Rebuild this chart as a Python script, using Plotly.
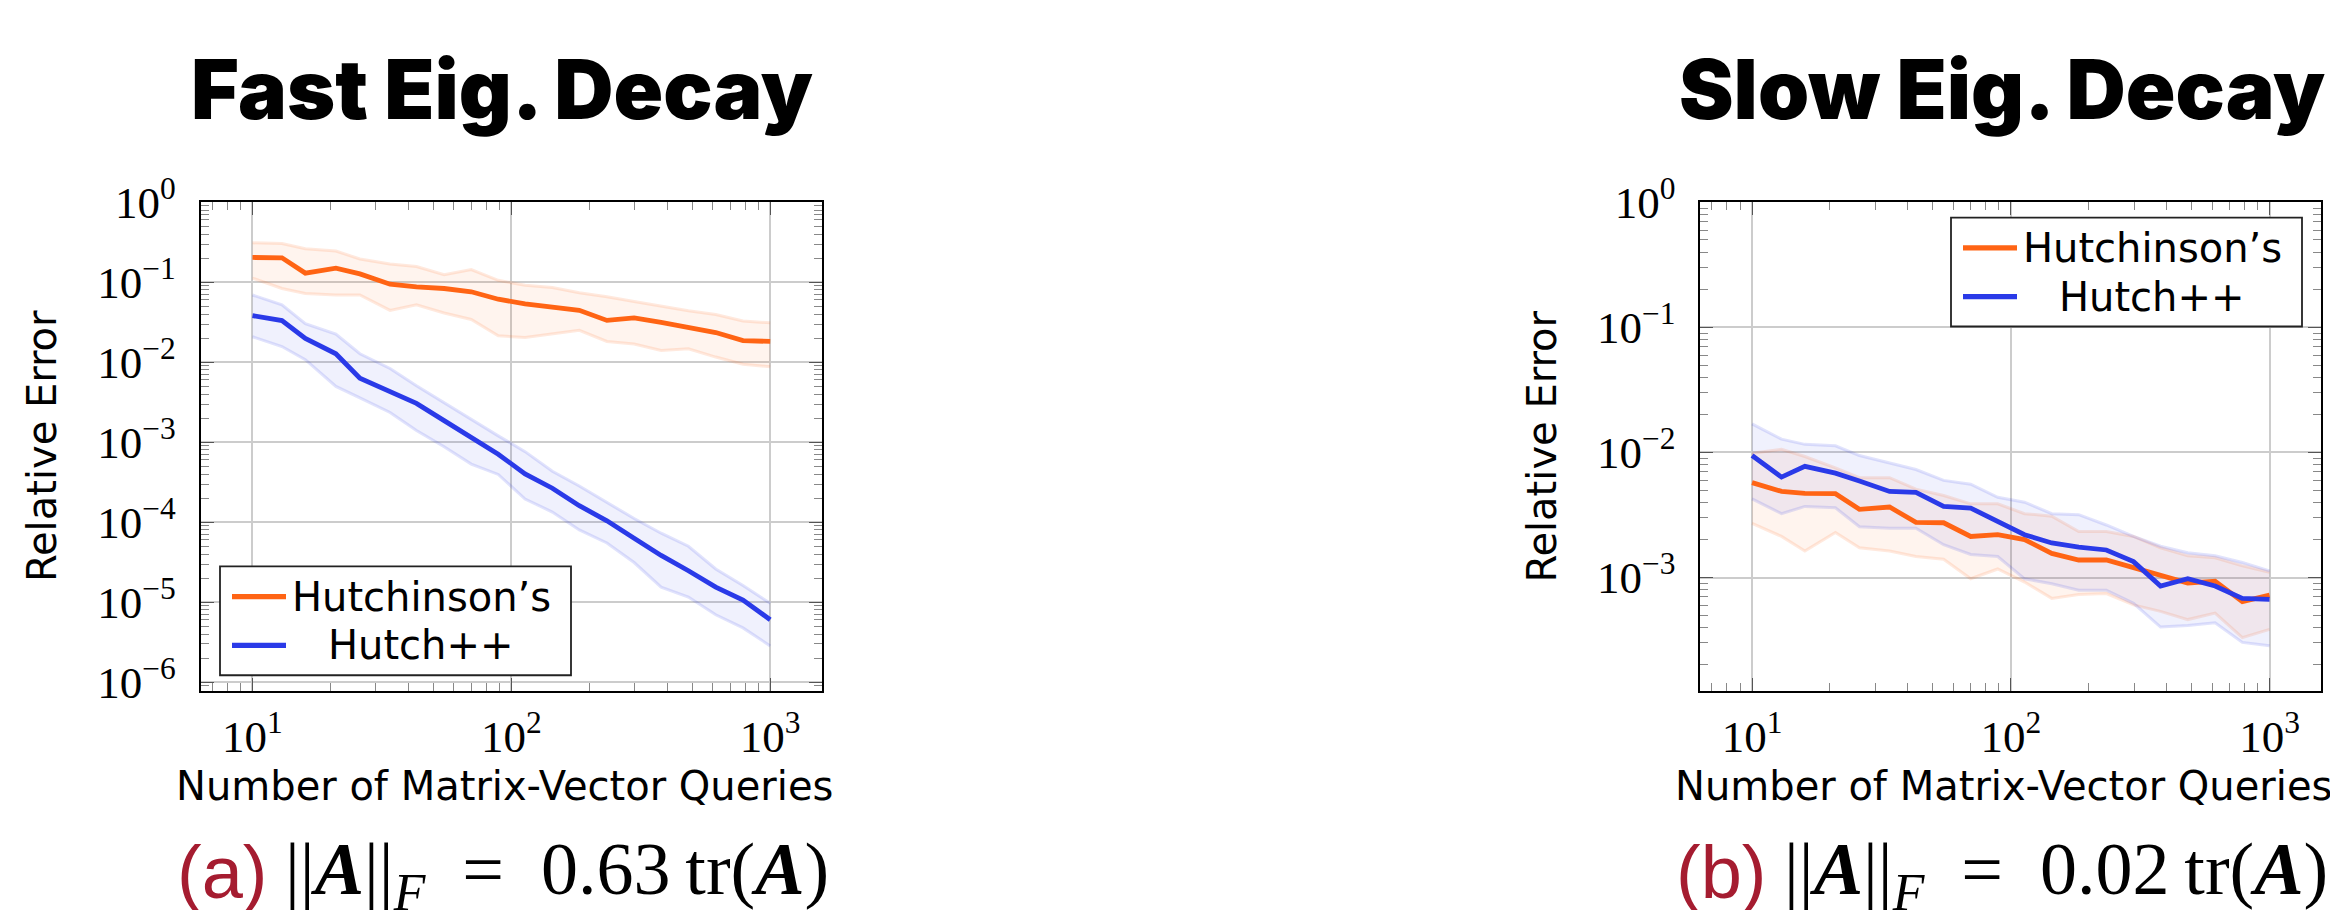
import plotly.graph_objects as go

W, H = 2338, 910

queries = [10, 13, 16, 21, 26, 34, 43, 55, 70, 89, 113, 144, 183, 234, 298, 379, 483, 616, 785, 1000]

fast_hutch = [0.204, 0.202, 0.130, 0.150, 0.127, 0.0944, 0.0875, 0.0835, 0.076, 0.0613, 0.0537, 0.0489,
              0.0445, 0.0333, 0.0358, 0.0314, 0.0275, 0.0235, 0.0186, 0.0182]
fast_hutch_hi = [0.311, 0.305, 0.263, 0.246, 0.195, 0.169, 0.157, 0.124, 0.144, 0.1057, 0.0917, 0.0859,
                 0.0739, 0.066, 0.0574, 0.0498, 0.0441, 0.0394, 0.0327, 0.0311]
fast_hutch_lo = [0.1128, 0.0835, 0.0725, 0.0692, 0.0692, 0.0445, 0.0522, 0.0413, 0.0342, 0.0214, 0.0204,
                 0.0224, 0.0251, 0.0182, 0.0169, 0.014, 0.0147, 0.0116, 0.00944, 0.00875]

fast_hpp = [0.0382, 0.0332, 0.0198, 0.01275, 0.00631, 0.00433, 0.00306, 0.00186, 0.00116, 7.06e-4, 4.02e-4,
            2.66e-4, 1.61e-4, 1.04e-4, 6.31e-5, 3.84e-5, 2.47e-5, 1.54e-5, 1.06e-5, 6.04e-6]
fast_hpp_hi = [0.0692, 0.0522, 0.0303, 0.0224, 0.01276, 0.00836, 0.00508, 0.00311, 0.00195, 0.0012, 7.62e-4,
               4.34e-4, 2.84e-4, 1.78e-4, 1.11e-4, 7.28e-5, 5.0e-5, 2.6e-5, 1.62e-5, 9.66e-6]
fast_hpp_lo = [0.0208, 0.0157, 0.01076, 0.00499, 0.00359, 0.00235, 0.0014, 8.77e-4, 5.33e-4, 3.95e-4, 1.95e-4,
               1.34e-4, 8.0e-5, 5.5e-5, 3.13e-5, 1.54e-5, 1.16e-5, 6.95e-6, 4.77e-6, 2.84e-6]

slow_hutch = [5.74e-3, 4.88e-3, 4.71e-3, 4.68e-3, 3.51e-3, 3.66e-3, 2.76e-3, 2.74e-3, 2.13e-3, 2.2e-3, 2.01e-3,
              1.56e-3, 1.38e-3, 1.38e-3, 1.2e-3, 1.05e-3, 9.03e-4, 9.36e-4, 6.41e-4, 7.23e-4]
slow_hutch_hi = [9.84e-3, 1.06e-2, 9.28e-3, 7.52e-3, 6.28e-3, 6.28e-3, 5.09e-3, 4.52e-3, 3.88e-3, 3.88e-3,
                 3.24e-3, 3.09e-3, 2.33e-3, 2.33e-3, 2.13e-3, 1.73e-3, 1.49e-3, 1.44e-3, 1.24e-3, 1.1e-3]
slow_hutch_lo = [2.71e-3, 2.13e-3, 1.63e-3, 2.29e-3, 1.73e-3, 1.63e-3, 1.47e-3, 1.4e-3, 9.77e-4, 1.17e-3, 9.2e-4,
                 6.81e-4, 7.31e-4, 7.44e-4, 6.04e-4, 5.36e-4, 4.61e-4, 5.2e-4, 3.31e-4, 3.85e-4]

slow_hpp = [9.44e-3, 6.35e-3, 7.74e-3, 6.83e-3, 5.91e-3, 4.88e-3, 4.8e-3, 3.7e-3, 3.59e-3, 2.79e-3, 2.2e-3,
            1.89e-3, 1.75e-3, 1.66e-3, 1.34e-3, 8.55e-4, 9.77e-4, 8.55e-4, 6.81e-4, 6.68e-4]
slow_hpp_hi = [0.0169, 0.01276, 0.0116, 0.0113, 9.44e-3, 8.22e-3, 7.3e-3, 5.98e-3, 5.57e-3, 4.38e-3, 4.0e-3,
               3.24e-3, 3.18e-3, 2.63e-3, 2.13e-3, 1.78e-3, 1.58e-3, 1.49e-3, 1.32e-3, 1.13e-3]
slow_hpp_lo = [4.25e-3, 3.24e-3, 3.7e-3, 3.61e-3, 2.55e-3, 2.48e-3, 2.48e-3, 1.83e-3, 1.53e-3, 1.47e-3, 9.77e-4,
               8.92e-4, 7.91e-4, 7.91e-4, 6.22e-4, 4.02e-4, 4.14e-4, 4.35e-4, 3.03e-4, 2.85e-4]

series_names = ["Hutchinson\u2019s", "Hutch++"]
panel_titles = ["Fast Eig. Decay", "Slow Eig. Decay"]
panel_captions = [("(a)", "0.63"), ("(b)", "0.02")]
x_label = "Number of Matrix-Vector Queries"
y_label = "Relative Error"

ORANGE = "#ff6414"
BLUE = "#2a3ae8"
ORANGE_RGB = "255,100,20"
BLUE_RGB = "42,58,232"

SANS = "DejaVu Sans, sans-serif"
SERIF = "Liberation Serif, DejaVu Serif, serif"


def px(x):
    return x / W


def py(y):
    return 1 - y / H


FRAME_TOP, FRAME_BOT = 172.3, 688.0
FRAMES_X = [(192.7, 814.0), (1692.3, 2313.3)]

fig = go.Figure()


def add_band(xa, ya, lo, hi, rgb):
    fig.add_trace(go.Scatter(x=queries, y=lo, xaxis=xa, yaxis=ya, mode="lines",
                             line=dict(color=f"rgba({rgb},0.14)", width=3), showlegend=False,
                             hoverinfo="skip"))
    fig.add_trace(go.Scatter(x=queries, y=hi, xaxis=xa, yaxis=ya, mode="lines", fill="tonexty",
                             fillcolor=f"rgba({rgb},0.07)",
                             line=dict(color=f"rgba({rgb},0.14)", width=3), showlegend=False,
                             hoverinfo="skip"))


def add_line(xa, ya, vals, color, name):
    fig.add_trace(go.Scatter(x=queries, y=vals, xaxis=xa, yaxis=ya, mode="lines", name=name,
                             line=dict(color=color, width=4.8), showlegend=False))


add_band("x", "y", fast_hutch_lo, fast_hutch_hi, ORANGE_RGB)
add_band("x", "y", fast_hpp_lo, fast_hpp_hi, BLUE_RGB)
add_line("x", "y", fast_hutch, ORANGE, series_names[0])
add_line("x", "y", fast_hpp, BLUE, series_names[1])

add_band("x2", "y2", slow_hutch_lo, slow_hutch_hi, ORANGE_RGB)
add_band("x2", "y2", slow_hpp_lo, slow_hpp_hi, BLUE_RGB)
add_line("x2", "y2", slow_hutch, ORANGE, series_names[0])
add_line("x2", "y2", slow_hpp, BLUE, series_names[1])


def sup(e):
    s = str(e).replace("-", "\u2212")
    return f"10<sup>{s}</sup>"


x_major = [10, 100, 1000]
x_minor = [k * 10 ** e for e in range(0, 4) for k in range(2, 10)]
TICKFONT = dict(family=SERIF, size=45, color="black")


def xaxis_cfg(domain, anchor):
    return dict(domain=domain, anchor=anchor, type="log", range=[0.8, 3.2],
                showline=True, linecolor="black", linewidth=1.8, mirror="allticks",
                ticks="inside", ticklen=13, tickwidth=1.3, tickcolor="#555",
                tickmode="array", tickvals=x_major, ticktext=[sup(1), sup(2), sup(3)],
                tickfont=TICKFONT,
                showgrid=True, gridcolor="#cccccc", gridwidth=1.5, zeroline=False,
                minor=dict(ticks="inside", ticklen=8, tickwidth=1.2, tickcolor="#888",
                           tickmode="array", tickvals=x_minor, showgrid=False),
                ticklabelstandoff=5)


def yaxis_cfg(domain, anchor, lo_exp, rng):
    majors = [10 ** e for e in range(lo_exp, 1)]
    minors = [k * 10 ** e for e in range(lo_exp - 1, 1) for k in range(2, 10)]
    return dict(domain=domain, anchor=anchor, type="log", range=rng,
                showline=True, linecolor="black", linewidth=1.8, mirror="allticks",
                ticks="inside", ticklen=13, tickwidth=1.3, tickcolor="#555",
                tickmode="array", tickvals=majors, ticktext=[sup(e) for e in range(lo_exp, 1)],
                tickfont=TICKFONT,
                showgrid=True, gridcolor="#cccccc", gridwidth=1.5, zeroline=False,
                minor=dict(ticks="inside", ticklen=8, tickwidth=1.2, tickcolor="#888",
                           tickmode="array", tickvals=minors, showgrid=False),
                ticklabelstandoff=14)


ydom = [py(FRAME_BOT), py(FRAME_TOP)]
fig.update_layout(
    width=W, height=H, margin=dict(l=0, r=0, t=0, b=0),
    paper_bgcolor="white", plot_bgcolor="white", showlegend=False,
    xaxis=xaxis_cfg([px(FRAMES_X[0][0]), px(FRAMES_X[0][1])], "y"),
    yaxis=yaxis_cfg(ydom, "x", -6, [-6.107, 0.0005]),
    xaxis2=xaxis_cfg([px(FRAMES_X[1][0]), px(FRAMES_X[1][1])], "y2"),
    yaxis2=yaxis_cfg(ydom, "x2", -3, [-3.905, 0.0005]),
)

annotations = []
shapes = []
legend_boxes = [(212.0, 556.7), (1943.0, 188.5)]
for i, (x0, x1) in enumerate(FRAMES_X):
    cx = (x0 + x1) / 2
    annotations.append(dict(text=panel_titles[i], x=px(cx - 9), y=py(53), xref="paper", yref="paper",
                            xanchor="center", yanchor="middle", showarrow=False,
                            font=dict(family="Inter, Noto Sans, sans-serif", size=82, color="black",
                                      weight=900)))
    annotations.append(dict(text=x_label, x=px(cx - 7), y=py(789), xref="paper", yref="paper",
                            xanchor="center", yanchor="middle", showarrow=False,
                            font=dict(family=SANS, size=40, color="black")))
    annotations.append(dict(text=y_label, x=px(x0 - 158), y=py(430), xref="paper", yref="paper",
                            xanchor="center", yanchor="middle", showarrow=False, textangle=-90,
                            font=dict(family=SANS, size=40, color="black")))
    tag, coef = panel_captions[i]
    annotations.append(dict(text=tag, x=px(x0 - 26), y=py(880), xref="paper", yref="paper",
                            xanchor="left", yanchor="middle", showarrow=False,
                            font=dict(family="Liberation Sans Narrow, Liberation Sans, sans-serif",
                                      size=74, color="#a51c30")))
    math = ("||<b><i>A</i></b>||<sub><i>F</i></sub>\u2002=\u2002"
            + coef + "\u2009tr(<b><i>A</i></b>)")
    annotations.append(dict(text=math, x=px(x1 + 9), y=py(882), xref="paper", yref="paper",
                            xanchor="right", yanchor="middle", showarrow=False,
                            font=dict(family=SERIF, size=74, color="black")))
    lx, ly = legend_boxes[i]
    shapes.append(dict(type="rect", xref="paper", yref="paper", x0=px(lx), x1=px(lx + 351),
                       y0=py(ly + 115), y1=py(ly), line=dict(color="#222", width=1.8),
                       fillcolor="white", layer="above"))
    for j, (col, name) in enumerate([(ORANGE, series_names[0]), (BLUE, series_names[1])]):
        yy = ly + 32 + j * 51.5
        shapes.append(dict(type="line", xref="paper", yref="paper", x0=px(lx + 12), x1=px(lx + 66),
                           y0=py(yy), y1=py(yy), line=dict(color=col, width=5.3), layer="above"))
        annotations.append(dict(text=name, x=px(lx + 201), y=py(yy), xref="paper", yref="paper",
                                xanchor="center", yanchor="middle", showarrow=False,
                                font=dict(family=SANS, size=40, color="black")))

fig.update_layout(annotations=annotations, shapes=shapes)
fig.write_html("out.html")
